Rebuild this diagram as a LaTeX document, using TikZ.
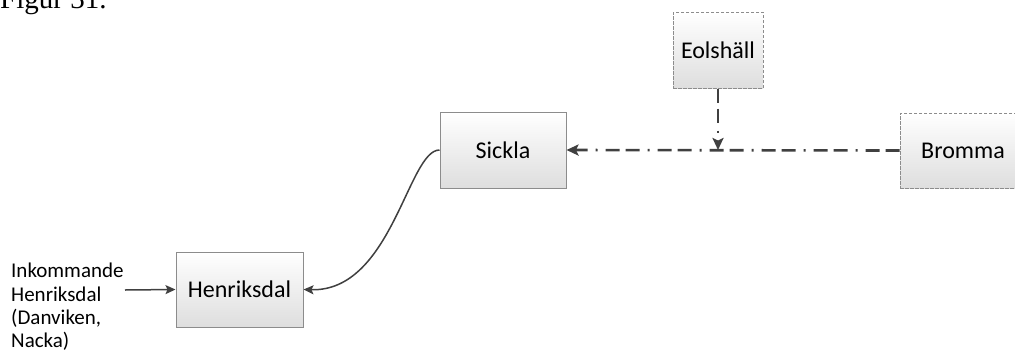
\documentclass[tikz,border=0pt]{standalone}
\usepackage{fontspec}
\setmainfont{Carlito}
\newfontfamily\seriffont{Liberation Serif}
\usetikzlibrary{arrows.meta}
\definecolor{linec}{HTML}{404040}
\definecolor{boxborder}{HTML}{8C8C8C}
\tikzset{
  boxbase/.style={rectangle, top color=white, bottom color=black!13, draw=boxborder, line width=1pt, font=\fontsize{24}{28}\selectfont, inner sep=0pt},
  solidbox/.style={boxbase},
  dashbox/.style={boxbase, dash pattern=on 3.5pt off 1.5pt},
  conn/.style={draw=linec, line width=1.5pt, -{Stealth[length=10pt,width=9pt,inset=2pt]}},
  dashdotconn/.style={draw=linec, line width=2.6pt, dash pattern=on 14pt off 6pt on 14pt off 8pt on 2pt off 8pt, -{Stealth[length=12pt,width=11pt,inset=2.5pt]}},
}
\begin{document}
\begin{tikzpicture}[x=1pt,y=-1pt]
\useasboundingbox (0,0) rectangle (1015,354);
\begin{scope}
\clip (0,0) rectangle (1015,354);
\node[anchor=base west, font=\seriffont\fontsize{29}{32}\selectfont, inner sep=0pt] (fig) at (0,8) {Figur 31.};
\node[dashbox, minimum width=126pt, minimum height=75pt] (bromma) at (963,150.5) {Bromma};
\end{scope}
\node[dashbox, minimum width=90pt, minimum height=76pt] (eol) at (718,50) {Eolshäll};
\node[solidbox, minimum width=126pt, minimum height=76pt] (sickla) at (503,150) {Sickla};
\node[solidbox, minimum width=127pt, minimum height=75pt] (henrik) at (239.5,289.5) {Henriksdal};
\node[anchor=north west, align=left, font=\fontsize{21}{23.3}\selectfont, inner sep=0pt] (ink) at (11,263) {Inkommande\\Henriksdal\\(Danviken,\\Nacka)};
\coordinate (inkend) at (125,290);
\coordinate (junc) at (718,150);
\draw[conn] (inkend) -- (henrik.west);
\draw[conn] (sickla.west) .. controls (408,150) and (392,292) .. (henrik.east);
\draw[dashdotconn] (bromma.west) -- (sickla.east);
\draw[dashdotconn] (eol.south) -- (junc);
\end{tikzpicture}
\end{document}
